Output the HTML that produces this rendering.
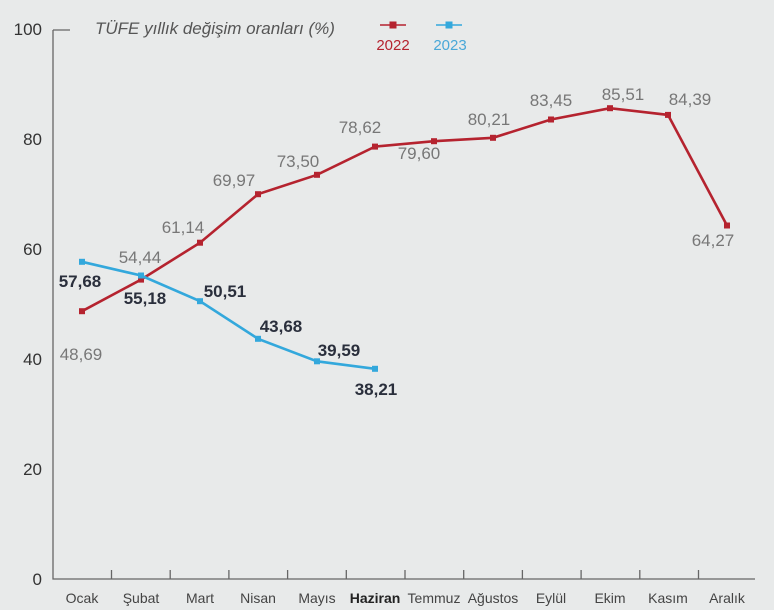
<!DOCTYPE html>
<html><head><meta charset="utf-8"><style>
body{margin:0;background:#e8eaea;}
svg{display:block;font-family:"Liberation Sans",sans-serif;}
</style></head><body>
<svg width="774" height="610" viewBox="0 0 774 610">
<rect width="774" height="610" fill="#e8eaea"/>
<g fill="#333" font-size="17" text-anchor="end">
<text x="42" y="35">100</text><text x="42" y="145">80</text><text x="42" y="255">60</text>
<text x="42" y="365">40</text><text x="42" y="475">20</text><text x="42" y="585">0</text>
</g>
<path d="M53 30 H70 M53 30 V579 H755" stroke="#666" stroke-width="1.3" fill="none"/>
<g stroke="#666" stroke-width="1.3">
<line x1="111.5" y1="579" x2="111.5" y2="570"/><line x1="170.2" y1="579" x2="170.2" y2="570"/>
<line x1="228.9" y1="579" x2="228.9" y2="570"/><line x1="287.6" y1="579" x2="287.6" y2="570"/>
<line x1="346.3" y1="579" x2="346.3" y2="570"/><line x1="405" y1="579" x2="405" y2="570"/>
<line x1="463.7" y1="579" x2="463.7" y2="570"/><line x1="522.4" y1="579" x2="522.4" y2="570"/>
<line x1="581.1" y1="579" x2="581.1" y2="570"/><line x1="639.8" y1="579" x2="639.8" y2="570"/>
<line x1="698.5" y1="579" x2="698.5" y2="570"/>
</g>
<g fill="#444" font-size="14" text-anchor="middle">
<text x="82" y="603">Ocak</text><text x="141" y="603">Şubat</text><text x="200" y="603">Mart</text>
<text x="258" y="603">Nisan</text><text x="317" y="603">Mayıs</text><text x="375" y="603" font-weight="bold" fill="#222">Haziran</text>
<text x="434" y="603">Temmuz</text><text x="493" y="603">Ağustos</text><text x="551" y="603">Eylül</text>
<text x="610" y="603">Ekim</text><text x="668" y="603">Kasım</text><text x="727" y="603">Aralık</text>
</g>
<text x="95" y="34" font-size="17" font-style="italic" fill="#555">TÜFE yıllık değişim oranları (%)</text>
<line x1="380" y1="25" x2="406" y2="25" stroke="#b5232f" stroke-width="1.5"/><rect x="389.5" y="21.5" width="7" height="7" fill="#b5232f"/>
<text x="393" y="50" font-size="15" fill="#b5232f" text-anchor="middle">2022</text>
<line x1="436" y1="25" x2="462" y2="25" stroke="#33a8dc" stroke-width="1.5"/><rect x="445.5" y="21.5" width="7" height="7" fill="#33a8dc"/>
<text x="450" y="50" font-size="15" fill="#4aa8d8" text-anchor="middle">2023</text>
<polyline fill="none" stroke="#b5232f" stroke-width="2.6" points="82,311.2 141,279.6 200,242.7 258,194.2 317,174.8 375,146.6 434,141.2 493,137.8 551,119.5 610,108.2 668,114.9 727,225.5"/>
<g fill="#b5232f">
<rect x="79" y="308.2" width="6" height="6"/><rect x="138" y="276.6" width="6" height="6"/><rect x="197" y="239.7" width="6" height="6"/>
<rect x="255" y="191.2" width="6" height="6"/><rect x="314" y="171.8" width="6" height="6"/><rect x="372" y="143.6" width="6" height="6"/>
<rect x="431" y="138.2" width="6" height="6"/><rect x="490" y="134.8" width="6" height="6"/><rect x="548" y="116.5" width="6" height="6"/>
<rect x="607" y="105.2" width="6" height="6"/><rect x="665" y="111.9" width="6" height="6"/><rect x="724" y="222.5" width="6" height="6"/>
</g>
<polyline fill="none" stroke="#33a8dc" stroke-width="2.6" points="82,261.8 141,275.5 200,301.2 258,338.8 317,361.3 375,368.8"/>
<g fill="#33a8dc">
<rect x="79" y="258.8" width="6" height="6"/><rect x="138" y="272.5" width="6" height="6"/><rect x="197" y="298.2" width="6" height="6"/>
<rect x="255" y="335.8" width="6" height="6"/><rect x="314" y="358.3" width="6" height="6"/><rect x="372" y="365.8" width="6" height="6"/>
</g>
<g fill="#777" font-size="17" text-anchor="middle">
<text x="81" y="360">48,69</text><text x="140" y="263">54,44</text><text x="183" y="233">61,14</text>
<text x="234" y="186">69,97</text><text x="298" y="167">73,50</text><text x="360" y="133">78,62</text>
<text x="419" y="159">79,60</text><text x="489" y="125">80,21</text><text x="551" y="106">83,45</text>
<text x="623" y="100">85,51</text><text x="690" y="105">84,39</text><text x="713" y="246">64,27</text>
</g>
<g fill="#2a2f3c" font-size="17" font-weight="bold" text-anchor="middle">
<text x="80" y="287">57,68</text><text x="145" y="304">55,18</text><text x="225" y="297">50,51</text>
<text x="281" y="332">43,68</text><text x="339" y="356">39,59</text><text x="376" y="395">38,21</text>
</g>
</svg>
</body></html>
